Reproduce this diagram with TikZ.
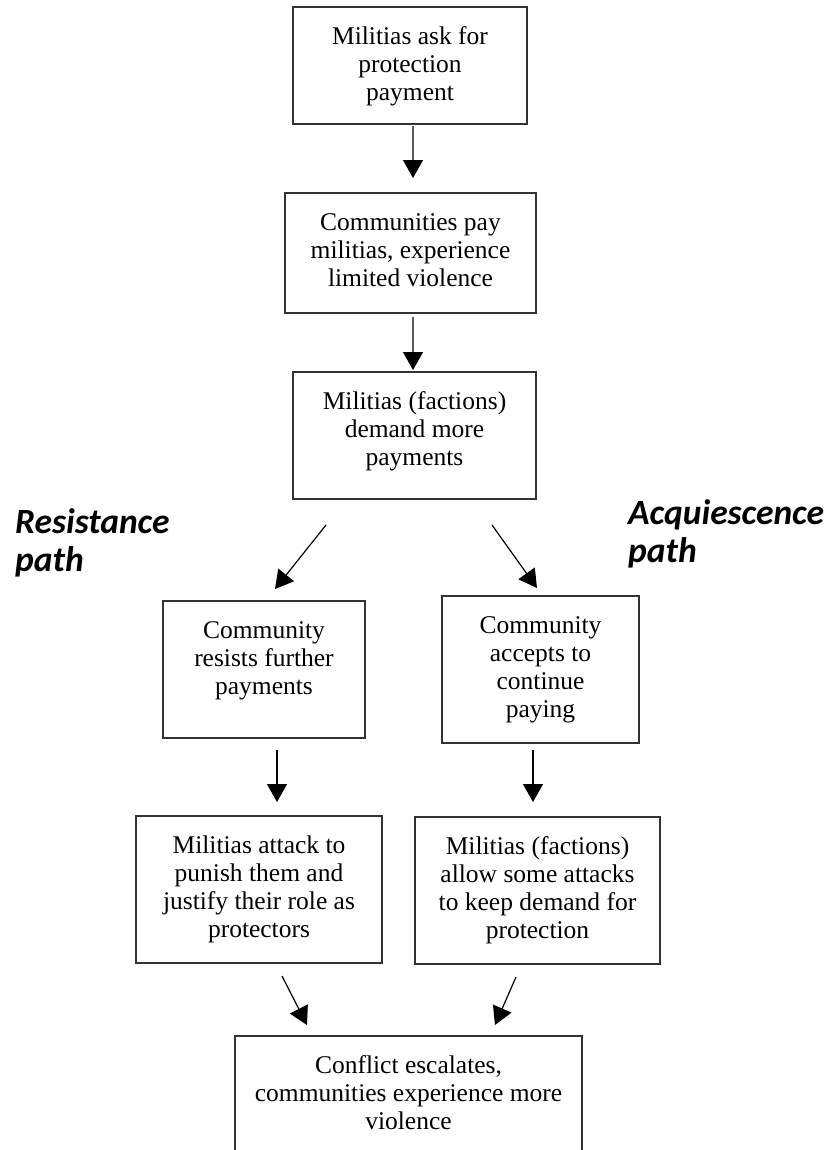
\documentclass[tikz,border=0pt]{standalone}
\usepackage{fontspec}
\setmainfont{Liberation Serif}
\newfontfamily\labfont{Carlito}
\usetikzlibrary{arrows.meta,calc}
\newcommand{\bx}[3]{\parbox[c][#2][t]{#1}{\centering\rule{0pt}{37bp}#3\par}}
\begin{document}
\begin{tikzpicture}[x=1bp,y=-1bp,
  boxnode/.style={draw=black!80,line width=1.3bp,inner sep=0pt,outer sep=0pt,anchor=north west,font=\fontsize{25.5bp}{28bp}\selectfont},
  arr/.style={-{Triangle[width=20bp,length=18bp]},line width=1.2bp},
  pathlabel/.style={font=\labfont\bfseries\itshape\fontsize{35.5bp}{38bp}\selectfont,align=left,inner sep=0pt,anchor=base west}]
\useasboundingbox (0,0) rectangle (826,1150);
\fill[white] (0,0) rectangle (826,1150);
\clip (0,0) rectangle (826,1150);

\node[boxnode] (B1) at (293,7) {\bx{234bp}{117bp}{Militias ask for\\protection\\payment}};
\node[boxnode] (B2) at (285,193) {\bx{251bp}{120bp}{Communities pay\\militias, experience\\limited violence}};
\node[boxnode] (B3) at (293,372) {\bx{243bp}{127bp}{Militias (factions)\\demand more\\payments}};
\node[boxnode] (B4L) at (163,601) {\bx{202bp}{137bp}{Community\\resists further\\payments}};
\node[boxnode] (B4R) at (442,596) {\bx{197bp}{147bp}{Community\\accepts to\\continue\\paying}};
\node[boxnode] (B5L) at (136,816) {\bx{246bp}{147bp}{Militias attack to\\punish them and\\justify their role as\\protectors}};
\node[boxnode] (B5R) at (415,817) {\bx{245bp}{147bp}{Militias (factions)\\allow some attacks\\to keep demand for\\protection}};
\node[boxnode] (B6) at (235,1036) {\bx{347bp}{140bp}{Conflict escalates,\\communities experience more\\violence}};

\node[pathlabel] (res) at (15,571) {Resistance\\path};
\node[pathlabel] (acq) at (628,562) {Acquiescence\\path};

\draw[arr] ($(B1.south)+(3,2)$) -- ($(B2.north)+(2.5,-15)$);
\draw[arr] ($(B2.south)+(2.5,4)$) -- ($(B3.north)+(-1.5,-2)$);
\draw[arr] ($(B3.south west)+(33,26)$) -- ($(B4L.north west)+(112,-12)$);
\draw[arr] ($(B3.south east)+(-44,26)$) -- ($(B4R.north west)+(95,-8)$);
\draw[arr] ($(B4L.south west)+(114,12)$) -- ($(B5L.north west)+(141,-14)$);
\draw[arr] ($(B4R.south west)+(91,7)$) -- ($(B5R.north west)+(118,-15)$);
\draw[arr] ($(B5L.south west)+(146,13)$) -- ($(B6.north west)+(72,-11)$);
\draw[arr] ($(B5R.south west)+(101,13)$) -- ($(B6.north west)+(260,-11)$);
\end{tikzpicture}
\end{document}
